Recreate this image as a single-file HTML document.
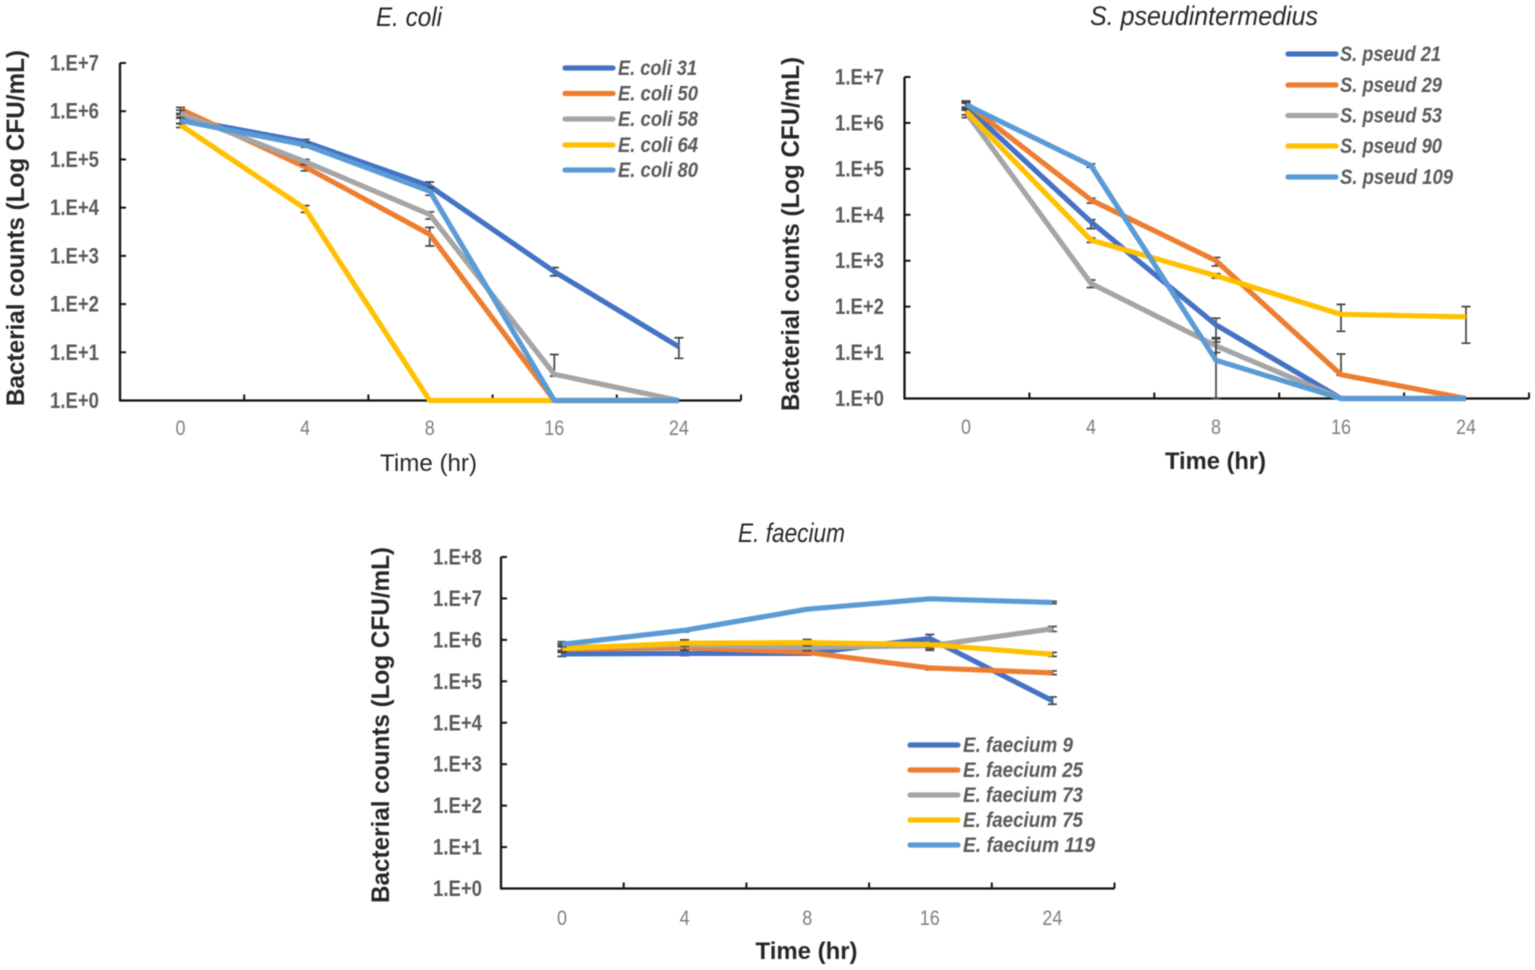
<!DOCTYPE html>
<html lang="en">
<head>
<meta charset="utf-8">
<title>Bacterial time-kill curves</title>
<style>
  html, body { margin: 0; padding: 0; background: #ffffff; }
  body { width: 1535px; height: 970px; overflow: hidden; }
  svg { display: block; filter: blur(0.5px); font-family: "Liberation Sans", Arial, sans-serif; }
</style>
</head>
<body>
<svg id="figure" xmlns="http://www.w3.org/2000/svg" width="1535" height="970" viewBox="0 0 1535 970"></svg>
<script>
// ---------- shared data ----------
const categories = ['0', '4', '8', '16', '24'];
const yTickValues7 = [1, 10, 100, 1000, 10000, 100000, 1000000, 10000000];
const yTickLabels7 = ['1.E+0', '1.E+1', '1.E+2', '1.E+3', '1.E+4', '1.E+5', '1.E+6', '1.E+7'];
const yTickValues8 = [1, 10, 100, 1000, 10000, 100000, 1000000, 10000000, 100000000];
const yTickLabels8 = ['1.E+0', '1.E+1', '1.E+2', '1.E+3', '1.E+4', '1.E+5', '1.E+6', '1.E+7', '1.E+8'];
const seriesColors = ['#4472C4', '#ED7D31', '#A5A5A5', '#FFC000', '#5B9BD5'];

// ---------- E. coli ----------
const ecoliNames = ['E. coli 31', 'E. coli 50', 'E. coli 58', 'E. coli 64', 'E. coli 80'];
const ecoli31Values = [700000, 230000, 28000, 470, 13];
const ecoli31Hi = [850000, 260000, 34000, 570, 20];
const ecoli31Lo = [550000, 200000, 22000, 385, 7.5];
const ecoli50Values = [1100000, 70000, 2800, 1, 1];
const ecoli50Hi = [1200000, 82000, 3900, 1, 1];
const ecoli50Lo = [900000, 58000, 1600, 1, 1];
const ecoli58Values = [900000, 90000, 7200, 3.5, 1];
const ecoli58Hi = [1050000, 100000, 8200, 9, 1];
const ecoli58Lo = [750000, 78000, 5800, 3.2, 1];
const ecoli64Values = [520000, 9500, 1, 1, 1];
const ecoli64Hi = [560000, 11000, 1, 1, 1];
const ecoli64Lo = [460000, 8000, 1, 1, 1];
const ecoli80Values = [640000, 200000, 22000, 1, 1];
const ecoli80Hi = [720000, 220000, 26000, 1, 1];
const ecoli80Lo = [560000, 180000, 18000, 1, 1];

// ---------- S. pseudintermedius ----------
const spseudNames = ['S. pseud 21', 'S. pseud 29', 'S. pseud 53', 'S. pseud 90', 'S. pseud 109'];
const spseud21Values = [2300000, 7000, 40, 1, 1];
const spseud21Hi = [2700000, 7800, 56, 1, 1];
const spseud21Lo = [1900000, 5000, 17, 1, 1];
const spseud29Values = [2700000, 21000, 1000, 3.3, 1];
const spseud29Hi = [3000000, 23000, 1180, 9.3, 1];
const spseud29Lo = [2200000, 18000, 770, 3.2, 1];
const spseud53Values = [1700000, 320, 14, 1, 1];
const spseud53Hi = [2000000, 380, 20, 1, 1];
const spseud53Lo = [1300000, 260, 10, 1, 1];
const spseud90Values = [1800000, 2800, 470, 68, 60];
const spseud90Hi = [2100000, 3100, 520, 112, 100];
const spseud90Lo = [1500000, 2500, 420, 29, 16];
const spseud109Values = [2500000, 118000, 6.8, 1, 1];
const spseud109Hi = [2800000, 128000, 21, 1, 1];
const spseud109Lo = [2200000, 108000, 1, 1, 1];

// ---------- E. faecium ----------
const faeciumNames = ['E. faecium 9', 'E. faecium 25', 'E. faecium 73', 'E. faecium 75', 'E. faecium 119'];
const faecium9Values = [460000, 470000, 470000, 1080000, 34000];
const faecium9Hi = [560000, 520000, 520000, 1350000, 42000];
const faecium9Lo = [400000, 420000, 430000, 560000, 28000];
const faecium25Values = [600000, 650000, 500000, 210000, 160000];
const faecium25Hi = [680000, 720000, 560000, 230000, 178000];
const faecium25Lo = [520000, 560000, 450000, 190000, 145000];
const faecium73Values = [650000, 750000, 660000, 720000, 1850000];
const faecium73Hi = [800000, 1000000, 800000, 820000, 2100000];
const faecium73Lo = [500000, 560000, 550000, 620000, 1600000];
const faecium75Values = [620000, 830000, 860000, 770000, 450000];
const faecium75Hi = [720000, 1000000, 1020000, 860000, 500000];
const faecium75Lo = [530000, 700000, 720000, 680000, 400000];
const faecium119Values = [780000, 1700000, 5500000, 9800000, 8000000];
const faecium119Hi = [900000, 1850000, 5900000, 10400000, 8500000];
const faecium119Lo = [680000, 1550000, 5200000, 9200000, 7500000];

// ---------- chart definitions (layout lives here, values above) ----------
const charts = [
  {
    key: 'e-coli', title: 'E. coli', titleX: 409, titleY: 26, titleW: 66,
    axisLeft: 120, axisRight: 741, axisTop: 63, axisBottom: 400.5,
    firstCenter: 180.5, step: 124.6,
    yTicks: yTickValues7, yLabels: yTickLabels7, yLabelX: 50,
    xLabelY: 435, xTitleX: 428.5, xTitleY: 471, xTitleW: 97, xTitleWeight: 'normal',
    yTitleX: 24, yTitleCenter: 228, yTitleLen: 356,
    legendLineX: 565, legendTextX: 618, legendY: [68, 93.5, 119, 145, 170],
    legendWidths: [79, 80, 80, 80, 80],
    names: ecoliNames,
    values: [ecoli31Values, ecoli50Values, ecoli58Values, ecoli64Values, ecoli80Values],
    hi: [ecoli31Hi, ecoli50Hi, ecoli58Hi, ecoli64Hi, ecoli80Hi],
    lo: [ecoli31Lo, ecoli50Lo, ecoli58Lo, ecoli64Lo, ecoli80Lo]
  },
  {
    key: 's-pseudintermedius', title: 'S. pseudintermedius', titleX: 1204, titleY: 25, titleW: 228,
    axisLeft: 904.5, axisRight: 1529, axisTop: 77, axisBottom: 398.5,
    firstCenter: 966, step: 125,
    yTicks: yTickValues7, yLabels: yTickLabels7, yLabelX: 835,
    xLabelY: 434, xTitleX: 1215.5, xTitleY: 469, xTitleW: 101, xTitleWeight: 'bold',
    yTitleX: 799, yTitleCenter: 234, yTitleLen: 354,
    legendLineX: 1288, legendTextX: 1340, legendY: [54, 85, 115.5, 146, 177],
    legendWidths: [101, 102, 102, 102, 113],
    names: spseudNames,
    values: [spseud21Values, spseud29Values, spseud53Values, spseud90Values, spseud109Values],
    hi: [spseud21Hi, spseud29Hi, spseud53Hi, spseud90Hi, spseud109Hi],
    lo: [spseud21Lo, spseud29Lo, spseud53Lo, spseud90Lo, spseud109Lo]
  },
  {
    key: 'e-faecium', title: 'E. faecium', titleX: 791.5, titleY: 542, titleW: 107,
    axisLeft: 501, axisRight: 1114.5, axisTop: 557, axisBottom: 888.5,
    firstCenter: 562, step: 122.6,
    yTicks: yTickValues8, yLabels: yTickLabels8, yLabelX: 433,
    xLabelY: 925, xTitleX: 806.5, xTitleY: 959, xTitleW: 102, xTitleWeight: 'bold',
    yTitleX: 389, yTitleCenter: 725, yTitleLen: 356,
    legendLineX: 910, legendTextX: 963, legendY: [745, 770, 795, 820, 845],
    legendWidths: [110, 120, 120, 120, 132],
    names: faeciumNames,
    values: [faecium9Values, faecium25Values, faecium73Values, faecium75Values, faecium119Values],
    hi: [faecium9Hi, faecium25Hi, faecium73Hi, faecium75Hi, faecium119Hi],
    lo: [faecium9Lo, faecium25Lo, faecium73Lo, faecium75Lo, faecium119Lo]
  }
];

// ---------- drawing ----------
const NS = 'http://www.w3.org/2000/svg';
const figure = document.getElementById('figure');

function make(parent, tag, attrs, text) {
  const node = document.createElementNS(NS, tag);
  for (const k in attrs) node.setAttribute(k, attrs[k]);
  if (text !== undefined) node.textContent = text;
  parent.appendChild(node);
  return node;
}

charts.forEach(function (c) {
  const decades = Math.log10(c.yTicks[c.yTicks.length - 1] / c.yTicks[0]);
  const yScale = function (v) {
    return c.axisBottom - (Math.log10(v / c.yTicks[0]) / decades) * (c.axisBottom - c.axisTop);
  };
  const xScale = function (i) { return c.firstCenter + i * c.step; };

  const g = make(figure, 'g', {});
  
  

  const title = make(g, 'text', {
    x: c.titleX, y: c.titleY, 'text-anchor': 'middle', 'font-size': 27, 'font-style': 'italic',
    fill: '#262626', textLength: c.titleW, lengthAdjust: 'spacingAndGlyphs'
  }, c.title);
  
  

  // y axis
  const yAxis = make(g, 'line', { x1: c.axisLeft, x2: c.axisLeft, y1: c.axisTop, y2: c.axisBottom, stroke: '#111111', 'stroke-width': 2.3 });
  
  

  c.yTicks.forEach(function (v, i) {
    const y = yScale(v);
    const tick = make(g, 'line', { x1: c.axisLeft, x2: c.axisLeft + 6, y1: y, y2: y, stroke: '#111111', 'stroke-width': 2 });
    
    
    const label = make(g, 'text', {
      x: c.yLabelX, y: y + 7.5, 'font-size': 22, 'font-weight': 'bold', fill: '#595959',
      textLength: 49, lengthAdjust: 'spacingAndGlyphs'
    }, c.yLabels[i]);
    
    
  });

  // x axis
  const xAxis = make(g, 'line', { x1: c.axisLeft - 1, x2: c.axisRight, y1: c.axisBottom, y2: c.axisBottom, stroke: '#111111', 'stroke-width': 2.3 });
  
  

  categories.forEach(function (cat, i) {
    const tx = c.axisLeft + (i + 1) * (c.axisRight - c.axisLeft) / categories.length;
    const tick = make(g, 'line', { x1: tx, x2: tx, y1: c.axisBottom, y2: c.axisBottom - 6, stroke: '#111111', 'stroke-width': 2 });
    
    
    const label = make(g, 'text', {
      x: xScale(i), y: c.xLabelY, 'text-anchor': 'middle', 'font-size': 21, fill: '#7f7f7f',
      textLength: cat.length * 10, lengthAdjust: 'spacingAndGlyphs'
    }, cat);
    
    
  });

  // axis titles
  const xTitle = make(g, 'text', {
    x: c.xTitleX, y: c.xTitleY, 'text-anchor': 'middle', 'font-size': 24, 'font-weight': c.xTitleWeight,
    fill: '#262626', textLength: c.xTitleW, lengthAdjust: 'spacingAndGlyphs'
  }, 'Time (hr)');
  
  

  const yTitle = make(g, 'text', {
    transform: 'translate(' + c.yTitleX + ' ' + c.yTitleCenter + ') rotate(-90)',
    'text-anchor': 'middle', 'font-size': 25, 'font-weight': 'bold', fill: '#262626',
    textLength: c.yTitleLen, lengthAdjust: 'spacingAndGlyphs'
  }, 'Bacterial counts (Log CFU/mL)');
  
  

  // series: error bars then line, in legend order
  c.values.forEach(function (vals, s) {
    const sg = make(g, 'g', {});
    
    

    vals.forEach(function (v, i) {
      const hiV = c.hi[s][i], loV = c.lo[s][i];
      if (hiV === loV) return;
      const x = xScale(i), yH = yScale(hiV), yL = yScale(loV);
      const bar = make(sg, 'path', {
        d: 'M' + (x - 4.5) + ' ' + yH + 'H' + (x + 4.5) + 'M' + x + ' ' + yH + 'V' + yL + 'M' + (x - 4.5) + ' ' + yL + 'H' + (x + 4.5),
        fill: 'none', stroke: '#444444', 'stroke-width': 1.7
      });
      
      
    });

    const line = make(sg, 'polyline', {
      points: vals.map(function (v, i) { return xScale(i) + ',' + yScale(v); }).join(' '),
      fill: 'none', stroke: seriesColors[s], 'stroke-width': 5.2,
      'stroke-linejoin': 'round', 'stroke-linecap': 'butt'
    });
    
    
  });

  // legend
  const legend = make(g, 'g', {});
  
  
  c.names.forEach(function (name, s) {
    const ly = c.legendY[s];
    const swatch = make(legend, 'line', {
      x1: c.legendLineX, x2: c.legendLineX + 48, y1: ly, y2: ly,
      stroke: seriesColors[s], 'stroke-width': 5.2, 'stroke-linecap': 'round'
    });
    
    
    const text = make(legend, 'text', {
      x: c.legendTextX, y: ly + 7, 'font-size': 21, 'font-style': 'italic', 'font-weight': 'bold',
      fill: '#595959', textLength: c.legendWidths[s], lengthAdjust: 'spacingAndGlyphs'
    }, name);
    
    
  });
});
</script>
</body>
</html>
